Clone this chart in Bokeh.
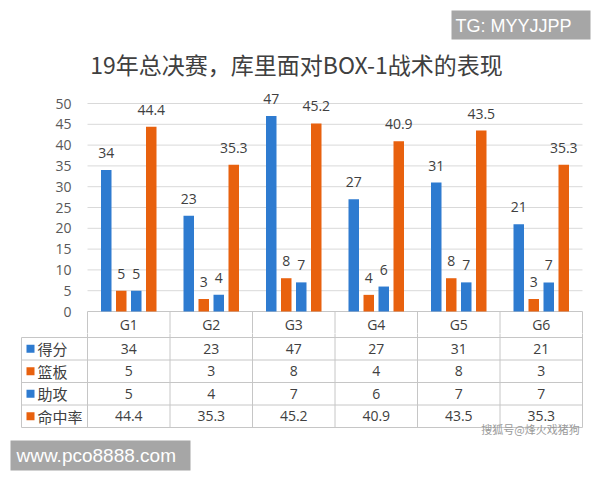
from bokeh.plotting import figure
from bokeh.models import Range1d, FixedTicker, ColumnDataSource
from bokeh.layouts import column
from bokeh.transform import dodge
from bokeh.core.properties import value
from bokeh.embed import file_html
from bokeh.resources import INLINE

# ---------------- data ----------------
title_text = "19年总决赛，库里面对BOX-1战术的表现"
games = ["G1", "G2", "G3", "G4", "G5", "G6"]
points = [34, 23, 47, 27, 31, 21]
rebounds = [5, 3, 8, 4, 8, 3]
assists = [5, 4, 7, 6, 7, 7]
fg_pct = [44.4, 35.3, 45.2, 40.9, 43.5, 35.3]
series_names = ["得分", "篮板", "助攻", "命中率"]
y_ticks = [0, 5, 10, 15, 20, 25, 30, 35, 40, 45, 50]
watermark_top = "TG: MYYJJPP"
watermark_bottom = "www.pco8888.com"
watermark_sohu = "搜狐号@烽火戏猪狗"

# ---------------- style ----------------
BLUE = "#2E7BD0"
ORANGE = "#E8610E"
series_colors = [BLUE, ORANGE, BLUE, ORANGE]
TXT = "#404040"
AXT = "#595959"
GRID = "#d9d9d9"
BORDER = "#c6c6c6"
CJK = "Noto Sans CJK SC"
NUM = "Open Sans"
LAT = "Liberation Sans"

M = 0                  # page offset of the layout (observed)
W = 598
CAT_PX = 82.5          # width of one game column in px
X0_PAGE = 87           # page x of left edge of G1 column
PX_PER_UNIT = 208 / 50  # vertical px per value unit

def fmt(v):
    return str(int(v)) if float(v).is_integer() else f"{v:.1f}"

def bare(fig):
    fig.grid.visible = False
    fig.outline_line_color = None
    fig.background_fill_color = "white"
    fig.border_fill_color = "white"
    return fig

series = [points, rebounds, assists, fg_pct]
n = len(games)
xc = [i + 0.5 for i in range(n)]
offsets = [-22.5 / CAT_PX, -7.5 / CAT_PX, 7.5 / CAT_PX, 22.5 / CAT_PX]
bar_w = 10.5 / CAT_PX

# ---------------- header figure (page y M..85) ----------------
H_TOP = 85
H1 = H_TOP - M
hdr = bare(figure(width=W, height=H1, x_range=Range1d(M, M + W), y_range=Range1d(H_TOP, M),
                  output_backend="svg", toolbar_location=None, tools="",
                  x_axis_location=None, y_axis_location=None, frame_align=False,
                  min_border=0, min_border_left=0, min_border_right=0,
                  min_border_top=0, min_border_bottom=0))
hdr.quad(left=451, right=590, top=10, bottom=39, fill_color="#a6a6a6", line_color=None)
hdr.text(x=[455], y=[25], text=[watermark_top], text_font=value(LAT),
         text_font_size="18px", text_color="white", text_align="left",
         text_baseline="middle")
hdr.text(x=[296], y=[63], text=[title_text], text_font=value(CJK),
         text_font_size="23px", text_color=TXT, text_align="center",
         text_baseline="middle")

# ---------------- chart figure (page y 85..333) ----------------
C_BOT = 333
H2 = C_BOT - H_TOP
zero_px = 311 - H_TOP
top50_px = 103 - H_TOP
y_lo = -(H2 - zero_px) / PX_PER_UNIT
y_hi = 50 + top50_px / PX_PER_UNIT
frame_left_page, frame_right_page = 83, 586
x_lo = (frame_left_page - X0_PAGE) / CAT_PX
x_hi = (frame_right_page - X0_PAGE) / CAT_PX

p = bare(figure(width=W, height=H2, x_range=Range1d(x_lo, x_hi), y_range=Range1d(y_lo, y_hi),
                output_backend="svg", toolbar_location=None, tools="",
                x_axis_location=None, frame_align=False,
                min_border=0, min_border_left=frame_left_page - M,
                min_border_right=M + W - frame_right_page, min_border_top=0,
                min_border_bottom=0))
p.extra_y_ranges = {"px": Range1d(C_BOT, H_TOP)}
p.yaxis.ticker = FixedTicker(ticks=y_ticks)
p.yaxis.axis_line_color = None
p.yaxis.major_tick_line_color = None
p.yaxis.minor_tick_line_color = None
p.yaxis.major_label_standoff = 6
p.yaxis.major_label_text_font = NUM
p.yaxis.major_label_text_font_size = "14px"
p.yaxis.major_label_text_color = AXT

# gridlines from ticks
grid_src = ColumnDataSource(dict(y=[v for v in y_ticks if v > 0]))
p.segment(x0=0, x1=n, y0="y", y1="y", source=grid_src, line_color=GRID, line_width=1)
# table top border (value 0) and header-row dividers
p.segment(x0=[0], x1=[n], y0=[0], y1=[0], line_color=BORDER, line_width=1)
p.segment(x0=list(range(n + 1)), x1=list(range(n + 1)), y0=0, y1=y_lo - 5,
          line_color=BORDER, line_width=1)

src = ColumnDataSource(dict(x=xc, game=games, s0=points, s1=rebounds, s2=assists, s3=fg_pct,
                            l0=[fmt(v) for v in points], l1=[fmt(v) for v in rebounds],
                            l2=[fmt(v) for v in assists], l3=[fmt(v) for v in fg_pct]))
for k in range(4):
    p.vbar(x=dodge("x", offsets[k]), top=f"s{k}", bottom=0, width=bar_w, source=src,
           fill_color=series_colors[k], line_color=None)
    p.text(x=dodge("x", offsets[k]), y=f"s{k}", text=f"l{k}", source=src,
           text_font=value(NUM), text_font_size="14px", text_color=TXT,
           text_align="center", text_baseline="bottom", y_offset=-12)

# header row labels G1..G6
p.text(x="x", y=324, text="game", source=src, y_range_name="px",
       text_font=value(NUM), text_font_size="14px", text_color=TXT,
       text_align="center", text_baseline="middle")

# ---------------- table figure (page y 333..478) ----------------
T_TOP = C_BOT
T_BOT = 478
H3 = T_BOT - T_TOP
row_top = 337
ROW_H = 22.5
left_col = (21 - X0_PAGE) / CAT_PX
t = bare(figure(width=W, height=H3,
                x_range=Range1d((M - X0_PAGE) / CAT_PX, (M + W - X0_PAGE) / CAT_PX),
                y_range=Range1d(T_BOT, T_TOP),
                output_backend="svg", toolbar_location=None, tools="",
                x_axis_location=None, y_axis_location=None, frame_align=False,
                min_border=0, min_border_left=0, min_border_right=0,
                min_border_top=0, min_border_bottom=0))
t.extra_x_ranges = {"px": Range1d(M, M + W)}

n_rows = len(series_names)
row_lines = [row_top + ROW_H * r for r in range(n_rows + 1)]
table_bottom = row_lines[-1]
t.segment(x0=left_col, x1=n, y0=row_lines, y1=row_lines, line_color=BORDER, line_width=1)
t.segment(x0=[left_col], x1=[left_col], y0=[row_top], y1=[table_bottom],
          line_color=BORDER, line_width=1)
t.segment(x0=list(range(n + 1)), x1=list(range(n + 1)), y0=T_TOP - 2, y1=table_bottom,
          line_color=BORDER, line_width=1)

row_mid = [row_top + ROW_H * (r + 0.5) for r in range(n_rows)]
t.scatter(x=[30] * n_rows, y=row_mid, x_range_name="px", marker="square", size=8,
          fill_color=series_colors, line_color=None)
t.text(x=[37] * n_rows, y=row_mid, text=series_names, x_range_name="px",
       text_font=value(CJK), text_font_size="15px", text_color=TXT,
       text_align="left", text_baseline="middle")

cx, cy, ct = [], [], []
for r, vals in enumerate(series):
    for i, v in enumerate(vals):
        cx.append(xc[i])
        cy.append(row_mid[r])
        ct.append(fmt(v))
t.text(x=cx, y=cy, text=ct, text_font=value(NUM), text_font_size="14px",
       text_color=TXT, text_align="center", text_baseline="middle")

# watermarks
t.text(x=[530], y=[428], text=[watermark_sohu], x_range_name="px",
       text_font=value(CJK), text_font_size="11px", text_color="#9a9a9a",
       text_align="center", text_baseline="middle")
t.quad(left=[10], right=[190], top=[440], bottom=[470],
       x_range_name="px", fill_color="#a6a6a6", line_color=None)
t.text(x=[16], y=[455], text=[watermark_bottom], x_range_name="px",
       text_font=value(LAT), text_font_size="19px", text_color="white",
       text_align="left", text_baseline="middle")

layout = column(hdr, p, t, spacing=0)
open("out.html", "w").write(file_html(layout, INLINE))
